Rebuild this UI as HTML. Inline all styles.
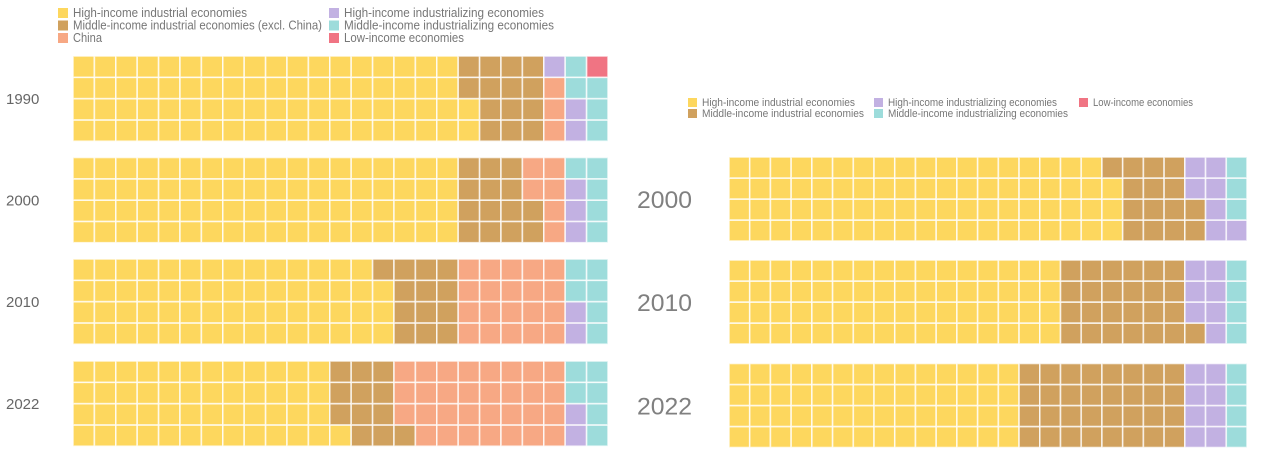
<!DOCTYPE html>
<html><head><meta charset="utf-8"><style>
html,body{margin:0;padding:0;background:#fff;width:1269px;height:460px;overflow:hidden}
svg{display:block;font-family:"Liberation Sans",sans-serif}
</style></head><body>
<svg id="chart" width="1269" height="460">
<g id="leftLegend"></g>
<g id="rightLegend"></g>
<g id="left"></g>
<g id="right"></g>
</svg>
<script>
const colors = {hi:'#FDD75E', mid:'#D0A15E', china:'#F7A884', hzing:'#C2B1E2', mzing:'#9DDCDB', low:'#F07483'};
const leftYears = ['1990','2000','2010','2022'];
const leftHi    = [74,72,59,49];
const leftMid   = [14,14,13,12];
const leftChina = [3,6,20,31];
const leftHzing = [3,3,2,2];
const leftMzing = [5,5,6,6];
const leftLow   = [1,0,0,0];
const rightYears = ['2000','2010','2022'];
const rightHi    = [75,64,56];
const rightMid   = [15,25,32];
const rightHzing = [7,7,8];
const rightMzing = [3,4,4];
const rightLow   = [0,0,0];

const NS='http://www.w3.org/2000/svg';
function mk(tag, attrs, parent){const e=document.createElementNS(NS,tag);for(const k in attrs)e.setAttribute(k,attrs[k]);parent.appendChild(e);return e;}

function waffle(parent, name, x0, y0, cw, ch, counts){
  const g=mk('g',{},parent);
  
  
  let idx=0;
  counts.forEach(([key,n])=>{
    for(let i=0;i<n;i++){
      const col=Math.floor(idx/4), row=3-(idx%4);
      const r=mk('rect',{x:x0+col*cw,y:y0+row*ch,width:cw,height:ch,fill:colors[key],stroke:'#fff','stroke-opacity':0.75,'stroke-width':1.6},g);
      
      
      idx++;
    }
  });
}

const L=document.getElementById('left');
const leftTops=[56,157.5,259,361];
leftYears.forEach((y,i)=>{
  waffle(L,'waffle-'+y+'-left',73,leftTops[i],21.4,21.3,
    [['hi',leftHi[i]],['mid',leftMid[i]],['china',leftChina[i]],['hzing',leftHzing[i]],['mzing',leftMzing[i]],['low',leftLow[i]]]);
  const t=mk('text',{x:6,y:leftTops[i]+48,'font-size':15,fill:'#666'},L);
  t.textContent=y;
  
  
});

const R=document.getElementById('right');
const rightTops=[157,260,363.5];
rightYears.forEach((y,i)=>{
  waffle(R,'waffle-'+y+'-right',729,rightTops[i],20.72,21,
    [['hi',rightHi[i]],['mid',rightMid[i]],['hzing',rightHzing[i]],['mzing',rightMzing[i]],['low',rightLow[i]]]);
  const t=mk('text',{x:637,y:rightTops[i]+51,'font-size':24,fill:'#808080',textLength:55,lengthAdjust:'spacingAndGlyphs'},R);
  t.textContent=y;
  
  
});

function legend(parent, items, size, fs, tx){
  items.forEach(([key,label,x,y,w])=>{
    const g=mk('g',{},parent);
    
    
    mk('rect',{x:x,y:y-size+1,width:size,height:size,fill:colors[key]},g);
    const t=mk('text',{x:x+tx,y:y,'font-size':fs,fill:'#777',textLength:w,lengthAdjust:'spacingAndGlyphs'},g);
    t.textContent=label;
  });
}
legend(document.getElementById('leftLegend'),[
  ['hi','High-income industrial economies',58,17,174],
  ['mid','Middle-income industrial economies (excl. China)',58,29.5,249],
  ['china','China',58,42,29],
  ['hzing','High-income industrializing economies',329,17,200],
  ['mzing','Middle-income industrializing economies',329,29.5,210],
  ['low','Low-income economies',329,42,120]
],10,12.5,15);
legend(document.getElementById('rightLegend'),[
  ['hi','High-income industrial economies',688,106,153],
  ['mid','Middle-income industrial economies',688,117,162],
  ['hzing','High-income industrializing economies',874,106,169],
  ['mzing','Middle-income industrializing economies',874,117,180],
  ['low','Low-income economies',1079,106,100]
],9,11,14);
</script>
</body></html>
